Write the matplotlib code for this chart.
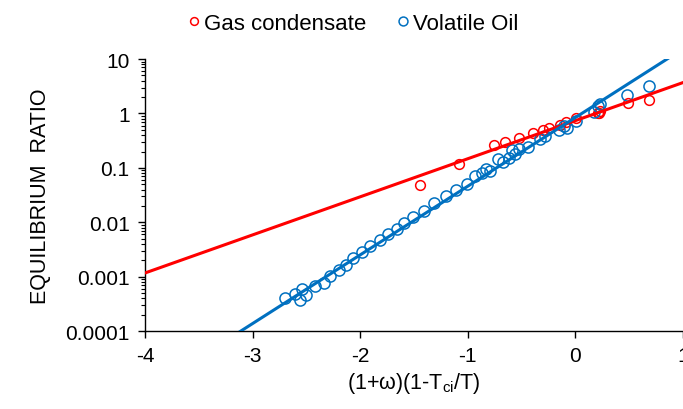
import matplotlib
matplotlib.use('Agg')
import matplotlib.pyplot as plt
from matplotlib.ticker import LogLocator, FixedLocator, FuncFormatter

plt.rcParams['font.family'] = ['Liberation Sans', 'DejaVu Sans']
plt.rcParams['axes.unicode_minus'] = False

# data
gc_x = [-1.44, -1.08, -0.76, -0.65, -0.52, -0.39, -0.30, -0.25, -0.14, -0.09,
        0.01, 0.21, 0.23, 0.22, 0.49, 0.68]
gc_k = [0.049, 0.116, 0.26, 0.30, 0.353, 0.44, 0.50, 0.53, 0.62, 0.70,
        0.83, 1.04, 1.11, 1.0, 1.58, 1.78]

vo_x = [-2.70, -2.61, -2.56, -2.54, -2.50, -2.42, -2.34, -2.28, -2.20, -2.13,
        -2.07, -1.98, -1.91, -1.82, -1.74, -1.66, -1.59, -1.51, -1.41, -1.31,
        -1.20, -1.11, -1.01, -0.93, -0.87, -0.83, -0.79, -0.72, -0.67, -0.62,
        -0.59, -0.56, -0.52, -0.44, -0.33, -0.28, -0.15, -0.11, -0.08, 0.01,
        0.17, 0.21, 0.23, 0.48, 0.68]
vo_k = [0.00040, 0.00048, 0.00038, 0.00059, 0.00046, 0.00068, 0.00076, 0.00104,
        0.0013, 0.00165, 0.0022, 0.0028, 0.0037, 0.0048, 0.0062, 0.0075, 0.0097,
        0.0123, 0.0159, 0.0226, 0.030, 0.040, 0.0515, 0.072, 0.082, 0.095, 0.088,
        0.143, 0.127, 0.153, 0.21, 0.182, 0.22, 0.24, 0.334, 0.385, 0.49, 0.59,
        0.55, 0.72, 1.07, 1.38, 1.50, 2.17, 3.22]

# fitted lines (end points)
gc_fit_x = [-4.0, 1.0]
gc_fit_k = [0.00117, 3.7]
vo_fit_x = [-3.2, 1.0]
vo_fit_k = [7.7e-5, 15.4]

x_ticks = [-4, -3, -2, -1, 0, 1]
y_ticks = [0.0001, 0.001, 0.01, 0.1, 1, 10]
y_labels = ['0.0001', '0.001', '0.01', '0.1', '1', '10']

red = '#FF0000'
blue = '#0070C0'

fig = plt.figure(figsize=(6.83, 4.10), dpi=100)
ax = fig.add_axes([0.2123, 0.19, 0.7877, 0.6635])

ax.plot(gc_fit_x, gc_fit_k, color=red, lw=2.2, zorder=3)
ax.plot(vo_fit_x, vo_fit_k, color=blue, lw=2.2, zorder=3)
h1, = ax.plot(gc_x, gc_k, 'o', mfc='none', mec=red, ms=7, mew=1.1,
              label='Gas condensate', zorder=2)
h2, = ax.plot(vo_x, vo_k, 'o', mfc='none', mec=blue, ms=8, mew=1.1,
              label='Volatile Oil', zorder=2)

ax.set_yscale('log')
ax.set_xlim(-4, 1)
ax.set_ylim(0.0001, 10)
ax.xaxis.set_major_locator(FixedLocator(x_ticks))
ax.yaxis.set_major_locator(FixedLocator(y_ticks))
ax.yaxis.set_major_formatter(FuncFormatter(lambda v, p: y_labels[y_ticks.index(v)] if v in y_ticks else ''))
ax.yaxis.set_minor_locator(LogLocator(base=10, subs=range(2, 10)))
ax.yaxis.set_minor_formatter(FuncFormatter(lambda v, p: ''))

for s in ['top', 'right']:
    ax.spines[s].set_visible(False)
for s in ['left', 'bottom']:
    ax.spines[s].set_linewidth(1.0)

ax.tick_params(which='major', direction='out', length=5, width=1, labelsize=15, pad=6)
ax.tick_params(axis='y', which='minor', direction='out', length=3, width=0.8)

ax.set_xlabel(r'(1+ω)(1-T$_{\mathregular{ci}}$/T)', fontsize=15.5, labelpad=3)
ax.set_ylabel('EQUILIBRIUM  RATIO', fontsize=15.5, labelpad=10)

fig.legend(handles=[h1, h2], loc='upper center', bbox_to_anchor=(0.518, 1.015),
           ncol=2, frameon=False, fontsize=16, handlelength=0.5,
           handletextpad=0.2, columnspacing=1.4, markerscale=0.8)

fig.savefig('out.png', dpi=100)
